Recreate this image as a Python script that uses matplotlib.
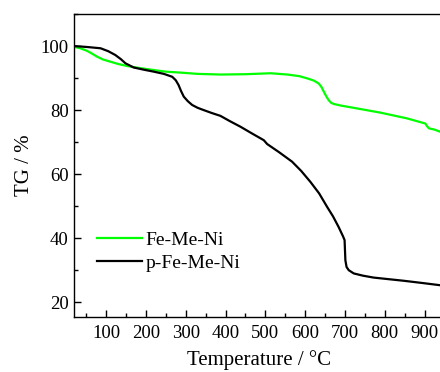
import matplotlib
matplotlib.use("Agg")
import matplotlib.pyplot as plt
from matplotlib.ticker import MultipleLocator

plt.rcParams['font.family'] = ['Liberation Serif', 'DejaVu Serif']

# p-Fe-Me-Ni (black)
p_temp = [18.6, 52, 86, 105, 123, 137, 148.5, 169, 195, 219.6, 245, 266, 275, 282, 288, 295, 305, 316,
          330, 345, 365, 387, 410, 437.5, 465, 496, 504.5, 535, 567, 590, 613, 635, 655, 670, 684,
          695, 699, 701, 704, 709.5, 722, 745, 772, 810, 848, 895, 940, 955]
p_tg = [100, 99.7, 99.3, 98.4, 97.2, 95.9, 94.6, 93.3, 92.6, 92.0, 91.3, 90.4, 89.3, 87.8, 86.0, 84.2,
        82.8, 81.6, 80.7, 80.0, 79.1, 78.2, 76.6, 74.8, 72.8, 70.6, 69.4, 66.8, 63.9, 61.0, 57.6, 54.0,
        49.8, 46.8, 43.5, 40.6, 39.4, 33.1, 31.0, 30.0, 29.0, 28.3, 27.7, 27.2, 26.7, 26.0, 25.3, 25.1]

# Fe-Me-Ni (green)
g_temp = [18.6, 35, 52, 65, 77, 92, 111, 130, 153, 185, 219.6, 250, 287, 330, 387, 450, 513, 555,
          585, 605, 622, 634, 641, 647, 653, 659, 665, 672, 690, 722, 789, 856, 902, 906, 911, 925,
          940, 955]
g_tg = [99.8, 99.3, 98.5, 97.6, 96.7, 95.8, 95.1, 94.4, 93.75, 93.1, 92.5, 92.0, 91.7, 91.3, 91.1,
        91.2, 91.5, 91.1, 90.6, 89.9, 89.2, 88.3, 87.2, 85.7, 84.3, 83.1, 82.3, 81.9, 81.4, 80.7, 79.2,
        77.4, 75.8, 75.0, 74.3, 73.9, 73.2, 72.8]

fig = plt.figure(figsize=(4.4, 3.72), dpi=100)
ax = fig.add_axes([73.5/440, 54.7/372, (444.5-73.5)/440, 303.3/372])

ax.plot(g_temp, g_tg, color='#00ff00', lw=1.6, label='Fe-Me-Ni')
ax.plot(p_temp, p_tg, color='black', lw=1.6, label='p-Fe-Me-Ni')

ax.set_xlim(18, 950)
ax.set_ylim(15.3, 110)
ax.xaxis.set_major_locator(MultipleLocator(100))
ax.xaxis.set_minor_locator(MultipleLocator(50))
ax.yaxis.set_major_locator(MultipleLocator(20))
ax.yaxis.set_minor_locator(MultipleLocator(10))
ax.tick_params(which='both', direction='in', top=False, right=False, labelsize=13.5)
ax.tick_params(which='major', length=5, width=1)
ax.tick_params(which='minor', length=3, width=1)
ax.tick_params(axis='x', which='major', pad=5.5)
ax.set_xticks([100, 200, 300, 400, 500, 600, 700, 800, 900])
for s in ax.spines.values():
    s.set_linewidth(1)

ax.set_xlabel('Temperature / °C', fontsize=15, labelpad=6)
ax.set_ylabel('TG / %', fontsize=15, labelpad=5)

ax.legend(loc='lower left', bbox_to_anchor=(0.042, 0.125), frameon=False, fontsize=14,
          handlelength=2.3, handletextpad=0.2, labelspacing=0.25, borderaxespad=0)

fig.savefig('out.png', dpi=100)
